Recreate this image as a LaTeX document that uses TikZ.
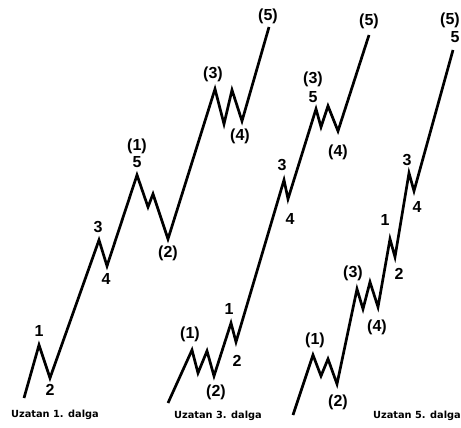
\documentclass[tikz,border=0pt]{standalone}
\usepackage{fontspec}
\setmainfont{Liberation Sans}
\newfontfamily\capfont{DejaVu Sans}
\usetikzlibrary{positioning}

\begin{document}
\begin{tikzpicture}[x=1pt, y=-1pt,
  every node/.style={font=\bfseries\fontsize{16}{16}\selectfont, inner sep=0pt},
  wave/.style={line width=2.7pt, line join=miter},
  caption/.style={font=\capfont\bfseries\fontsize{9.8}{10}\selectfont}]
  \useasboundingbox[fill=white] (0,0) rectangle (461,428);

  % extended first wave
  \coordinate (a0) at (24,398);
  \coordinate (a1) at (39,345);
  \coordinate (a2) at (50,378);
  \coordinate (a3) at (99,240);
  \coordinate (a4) at (107,266);
  \coordinate (a5) at (137,175);
  \coordinate (a6) at (148,207);
  \coordinate (a7) at (153,194);
  \coordinate (a8) at (168,239);
  \coordinate (a9) at (215,89);
  \coordinate (a10) at (224,124);
  \coordinate (a11) at (232,90);
  \coordinate (a12) at (242,121);
  \coordinate (a13) at (269,27);
  \draw[wave] (a0) -- (a1) -- (a2) -- (a3) -- (a4) -- (a5) -- (a6) -- (a7)
    -- (a8) -- (a9) -- (a10) -- (a11) -- (a12) -- (a13);
  \node (la1) at (39,331) {1};
  \node (la2) at (50,390) {2};
  \node (la3) at (98,227) {3};
  \node (la4) at (106,279) {4};
  \node (la5) at (137,162) {5};
  \node (lA1) at (137,146) {(1)};
  \node (lA2) at (168,253) {(2)};
  \node (lA3) at (213,74) {(3)};
  \node (lA4) at (240,136) {(4)};
  \node (lA5) at (268,16) {(5)};
  \node[caption] (capa) at (55,415) {Uzatan 1. dalga};

  % extended third wave
  \coordinate (b0) at (168,403);
  \coordinate (b1) at (192,350);
  \coordinate (b2) at (198,373);
  \coordinate (b3) at (207,351);
  \coordinate (b4) at (214,376);
  \coordinate (b5) at (231,323);
  \coordinate (b6) at (236,342);
  \coordinate (b7) at (284,180);
  \coordinate (b8) at (288,199);
  \coordinate (b9) at (316,109);
  \coordinate (b10) at (321,127);
  \coordinate (b11) at (328,106);
  \coordinate (b12) at (338,131);
  \coordinate (b13) at (369,35);
  \draw[wave] (b0) -- (b1) -- (b2) -- (b3) -- (b4) -- (b5) -- (b6) -- (b7)
    -- (b8) -- (b9) -- (b10) -- (b11) -- (b12) -- (b13);
  \node (lb1) at (229,309) {1};
  \node (lb2) at (237,361) {2};
  \node (lb3) at (282,165) {3};
  \node (lb4) at (290,219) {4};
  \node (lb5) at (313,97) {5};
  \node (lB1) at (190,334) {(1)};
  \node (lB2) at (216,392) {(2)};
  \node (lB3) at (313,79) {(3)};
  \node (lB4) at (338,152) {(4)};
  \node (lB5) at (369,21) {(5)};
  \node[caption] (capb) at (218,416) {Uzatan 3. dalga};

  % extended fifth wave
  \coordinate (c0) at (293,415);
  \coordinate (c1) at (313,355);
  \coordinate (c2) at (321,376);
  \coordinate (c3) at (328,359);
  \coordinate (c4) at (337,384);
  \coordinate (c5) at (357,289);
  \coordinate (c6) at (363,309);
  \coordinate (c7) at (370,282);
  \coordinate (c8) at (378,307);
  \coordinate (c9) at (390,239);
  \coordinate (c10) at (395,257);
  \coordinate (c11) at (409,173);
  \coordinate (c12) at (414,191);
  \coordinate (c13) at (453,50);
  \draw[wave] (c0) -- (c1) -- (c2) -- (c3) -- (c4) -- (c5) -- (c6) -- (c7)
    -- (c8) -- (c9) -- (c10) -- (c11) -- (c12) -- (c13);
  \node (lc1) at (385,220) {1};
  \node (lc2) at (399,274) {2};
  \node (lc3) at (407,160) {3};
  \node (lc4) at (417,207) {4};
  \node (lc5) at (455,37) {5};
  \node (lC1) at (315,340) {(1)};
  \node (lC2) at (338,402) {(2)};
  \node (lC3) at (353,273) {(3)};
  \node (lC4) at (377,327) {(4)};
  \node (lC5) at (450,20) {(5)};
  \node[caption] (capc) at (417,416) {Uzatan 5. dalga};
\end{tikzpicture}
\end{document}
